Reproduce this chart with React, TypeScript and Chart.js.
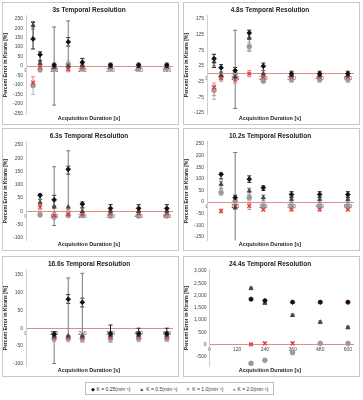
import React, { useEffect, useRef } from "react";
import { Chart, registerables } from "chart.js";
Chart.register(...registerables);

// ---------- data ----------
const durations = [30, 60, 120, 180, 240, 360, 480, 600];
const xTickValues = [0, 120, 240, 360, 480, 600];
const seriesLabels = ["K = 0.25(min⁻¹)", "K = 0.5(min⁻¹)", "K = 1.0(min⁻¹)", "K = 2.0(min⁻¹)"];
const panelTitles = [
  "3s Temporal Resolution",
  "4.8s Temporal Resolution",
  "6.3s Temporal Resolution",
  "10.2s Temporal Resolution",
  "16.6s Temporal Resolution",
  "24.4s Temporal Resolution",
];
const yAxisTitle = "Percent Error in Ktrans [%]";
const xAxisTitle = "Acquisition Duration [s]";

const yTicks1 = [-250, -200, -150, -100, -50, 0, 50, 100, 150, 200, 250];
const yTicks2 = [-125, -75, -25, 25, 75, 125, 175];
const yTicks3 = [-100, -50, 0, 50, 100, 150, 200, 250];
const yTicks4 = [-150, -100, -50, 0, 50, 100, 150, 200, 250];
const yTicks5 = [-100, -50, 0, 50, 100, 150];
const yTicks6 = [-500, 0, 500, 1000, 1500, 2000, 2500, 3000];

type V = number | null;

const p1Mean: V[][] = [
  [143, 60, 5, 127, 20, 5, 5, 5],
  [214, 15, -5, 0, 5, -3, -3, -3],
  [-87, -5, 0, -16, -5, 0, 0, 0],
  [-103, -20, -15, 10, -15, -12, -12, -12],
];
const p1Low: V[][] = [
  [90, 30, -5, 105, -5, -8, -8, -8],
  [195, 0, -206, -16, -10, -15, -15, -15],
  [-110, -15, -10, -30, -15, -10, -10, -10],
  [-150, -30, -25, -5, -25, -22, -22, -22],
];
const p1High: V[][] = [
  [230, 75, 15, 150, 40, 15, 15, 15],
  [235, 25, 206, 238, 15, 7, 7, 7],
  [-56, 5, 10, 0, 5, 10, 10, 10],
  [-90, -10, -5, 30, -5, -2, -2, -2],
];

const p2Mean: V[][] = [
  [48, 19, 10, 130, 24, 0, 0, 0],
  [38, -5, -10, 115, 0, -5, -5, -5],
  [-43, -14, -19, 0, -10, -10, -10, -10],
  [-53, -10, 0, 87, -24, -19, -19, -19],
];
const p2Low: V[][] = [
  [20, 5, 0, 110, 10, -8, -8, -8],
  [25, -15, -111, 72, -10, -12, -12, -12],
  [-70, -24, -30, -10, -20, -18, -18, -18],
  [-82, -20, -10, 75, -29, -27, -27, -27],
];
const p2High: V[][] = [
  [62, 29, 20, 139, 34, 8, 8, 8],
  [50, 5, 139, 139, 10, 2, 2, 2],
  [-30, -5, -10, 10, 0, -3, -3, -3],
  [-40, 0, 10, 100, -15, -12, -12, -12],
];

const p3Mean: V[][] = [
  [null, 60, 43, 158, 27, 11, 11, 11],
  [null, 33, 16, 16, 0, 0, 0, 0],
  [null, 16, -16, -11, -11, -8, -8, -8],
  [null, -13, -22, -16, -16, -18, -18, -18],
];
const p3Low: V[][] = [
  [null, 45, 20, 140, 15, 0, 0, 0],
  [null, 20, -54, 5, -10, -8, -8, -8],
  [null, 5, -25, -20, -18, -15, -15, -15],
  [null, -22, -30, -22, -22, -24, -24, -24],
];
const p3High: V[][] = [
  [null, 65, 60, 170, 35, 25, 25, 25],
  [null, 45, 168, 228, 10, 8, 8, 8],
  [null, 25, -5, 0, -5, -2, -2, -2],
  [null, -5, -15, -10, -10, -12, -12, -12],
];

const p4Mean: V[][] = [
  [null, 120, 19, 99, 62, 33, 33, 33],
  [null, 77, -25, 48, 19, 12, 12, 12],
  [null, -39, -17, -17, -32, -32, -32, -32],
  [null, 41, 5, 19, -17, -17, -17, -17],
];
const p4Low: V[][] = [
  [null, 100, 5, 85, 50, 20, 20, 20],
  [null, 60, -235, 30, 5, 0, 0, 0],
  [null, -46, -25, -32, -38, -38, -38, -38],
  [null, 30, -5, 5, -25, -25, -25, -25],
];
const p4High: V[][] = [
  [null, 125, 30, 113, 70, 45, 45, 45],
  [null, 90, 214, 60, 30, 25, 25, 25],
  [null, -30, -10, -5, -25, -25, -25, -25],
  [null, 55, 15, 33, -5, -5, -5, -5],
];

const p5Mean: V[][] = [
  [null, null, -17, 82, 73, -15, -15, -15],
  [null, null, -22, -22, -22, -20, -20, -20],
  [null, null, -26, -26, -26, -25, -25, -25],
  [null, null, -30, -30, -30, -30, -30, -30],
];
const p5Low: V[][] = [
  [null, null, -25, 70, 60, -22, -22, -22],
  [null, null, -100, -22, -39, -39, -30, -30],
  [null, null, -32, -32, -32, -30, -30, -30],
  [null, null, -38, -38, -38, -38, -38, -38],
];
const p5High: V[][] = [
  [null, null, -10, 95, 85, 9, 0, 0],
  [null, null, -13, 142, 155, -10, -10, -10],
  [null, null, -20, -20, -20, -18, -18, -18],
  [null, null, -25, -25, -25, -24, -24, -24],
];

const p6Mean: V[][] = [
  [null, null, null, 1850, 1790, 1725, 1725, 1725],
  [null, null, null, 2290, 1690, 1190, 910, 690],
  [null, null, null, 0, 40, 40, 1725, 1725],
  [null, null, null, -775, -650, -340, 40, 40],
];
const p6Low: V[][] = [
  [null, null, null, 1790, 1730, 1670, 1670, 1670],
  [null, null, null, 2240, 1640, 1140, 860, 640],
  [null, null, null, -50, -10, -10, 1680, 1680],
  [null, null, null, -830, -700, -390, -10, -10],
];
const p6High: V[][] = [
  [null, null, null, 1900, 1840, 1780, 1780, 1780],
  [null, null, null, 2340, 1740, 1240, 960, 740],
  [null, null, null, 50, 90, 90, 1770, 1770],
  [null, null, null, -720, -600, -290, 90, 90],
];

const yRanges: [number, number][] = [
  [-255, 265],
  [-130, 185],
  [-110, 262],
  [-165, 260],
  [-108, 165],
  [-900, 3050],
];

// ---------- styles ----------
const FONT = "'Liberation Sans', Arial, sans-serif";
const pointStyles = ["rectRot", "triangle", "crossRot", "circle"];
const pointColors = ["#111111", "#444444", "#e03a3a", "#9a9a9a"];
const errColors = ["#222222", "#777777", "#e88080", "#b5b5b5"];

const panels = [
  { mean: p1Mean, low: p1Low, high: p1High, ticks: yTicks1 },
  { mean: p2Mean, low: p2Low, high: p2High, ticks: yTicks2 },
  { mean: p3Mean, low: p3Low, high: p3High, ticks: yTicks3 },
  { mean: p4Mean, low: p4Low, high: p4High, ticks: yTicks4 },
  { mean: p5Mean, low: p5Low, high: p5High, ticks: yTicks5 },
  { mean: p6Mean, low: p6Low, high: p6High, ticks: yTicks6 },
];

const errorBarPlugin = {
  id: "errBars",
  beforeDatasetsDraw(chart: any) {
    const { ctx, chartArea, scales } = chart;
    const x = scales.x;
    const y = scales.y;
    ctx.save();
    ctx.beginPath();
    ctx.rect(chartArea.left, chartArea.top, chartArea.right - chartArea.left, chartArea.bottom - chartArea.top);
    ctx.clip();
    chart.data.datasets.forEach((ds: any) => {
      ctx.strokeStyle = ds.errColor;
      ctx.lineWidth = 1;
      ds.data.forEach((p: any) => {
        const px = x.getPixelForValue(p.x);
        const y1 = y.getPixelForValue(p.lo);
        const y2 = y.getPixelForValue(p.hi);
        ctx.beginPath();
        ctx.moveTo(px, y1);
        ctx.lineTo(px, y2);
        ctx.moveTo(px - 2, y1);
        ctx.lineTo(px + 2, y1);
        ctx.moveTo(px - 2, y2);
        ctx.lineTo(px + 2, y2);
        ctx.stroke();
      });
    });
    ctx.restore();
  },
};

function Panel({ idx, w, h }: { idx: number; w: number; h: number }) {
  const ref = useRef<HTMLCanvasElement | null>(null);
  useEffect(() => {
    if (!ref.current) return;
    const pd = panels[idx];
    const datasets = pd.mean.map((series, s) => ({
      label: seriesLabels[s],
      data: durations
        .map((d, k) =>
          series[k] === null ? null : { x: d, y: series[k], lo: pd.low[s][k], hi: pd.high[s][k] }
        )
        .filter((p) => p !== null),
      pointStyle: pointStyles[s],
      pointRadius: s === 2 ? 2.6 : 2.4,
      borderWidth: s === 2 ? 1.3 : 0.8,
      borderColor: pointColors[s],
      backgroundColor: pointColors[s],
      errColor: errColors[s],
      showLine: false,
    }));
    const chart = new Chart(ref.current, {
      type: "scatter",
      data: { datasets } as any,
      plugins: [errorBarPlugin],
      options: {
        animation: false,
        responsive: false,
        devicePixelRatio: 1,
        events: [],
        layout: { padding: { top: 1, right: 3, bottom: 1, left: 0 } },
        plugins: {
          legend: { display: false },
          tooltip: { enabled: false },
          title: {
            display: true,
            text: panelTitles[idx],
            color: "#222",
            font: { size: 6.5, weight: "bold", family: FONT },
            padding: { top: 2, bottom: 2 },
          },
          subtitle: {
            display: true,
            position: "bottom",
            text: xAxisTitle,
            color: "#222",
            font: { size: 5.5, weight: "bold", family: FONT },
            padding: { top: 1, bottom: 1 },
          },
        },
        scales: {
          x: {
            type: "linear",
            min: 0,
            max: 625,
            position: { y: 0 },
            afterBuildTicks: (s: any) => {
              s.ticks = xTickValues.map((v) => ({ value: v }));
            },
            ticks: { font: { size: 5, family: FONT }, color: "#444", padding: 2, maxRotation: 0, autoSkip: false },
            grid: { display: false, drawTicks: false },
            border: { display: true, color: "#e58a8a", dash: [3, 2], width: 1 },
          },
          y: {
            type: "linear",
            min: yRanges[idx][0],
            max: yRanges[idx][1],
            afterBuildTicks: (s: any) => {
              s.ticks = pd.ticks.map((v) => ({ value: v }));
            },
            ticks: { font: { size: 5, family: FONT }, color: "#444", padding: 3 },
            grid: { display: false, drawTicks: false },
            border: { display: true, color: "#d0d0d0", width: 1 },
            title: {
              display: true,
              text: yAxisTitle,
              color: "#222",
              font: { size: 5, weight: "bold", family: FONT },
              padding: { top: 0, bottom: 1 },
            },
          },
        },
      } as any,
    });
    return () => chart.destroy();
  }, [idx]);
  return <canvas ref={ref} width={w} height={h} style={{ width: w, height: h, display: "block" }} />;
}

const legendMarks = ["◆", "▲", "✕", "●"];

export default function App() {
  const lefts = [2, 183];
  const tops = [2, 128, 256];
  const heights = [123, 123, 121];
  const W = 177;
  return (
    <div style={{ position: "absolute", left: 0, top: 0, width: 363, height: 400, background: "#fff", fontFamily: FONT }}>
      {panelTitles.map((_, i) => {
        const r = Math.floor(i / 2);
        const c = i % 2;
        return (
          <div
            key={i}
            style={{
              position: "absolute",
              left: lefts[c],
              top: tops[r],
              width: W,
              height: heights[r],
              border: "1px solid #c8c8c8",
              boxSizing: "border-box",
            }}
          >
            <Panel idx={i} w={W - 2} h={heights[r] - 2} />
          </div>
        );
      })}
      <div
        style={{
          position: "absolute",
          left: 85,
          top: 382,
          width: 189,
          height: 13,
          border: "1px solid #bdbdbd",
          boxSizing: "border-box",
          display: "flex",
          alignItems: "center",
          justifyContent: "space-around",
          fontSize: 5,
          color: "#333",
          whiteSpace: "nowrap",
        }}
      >
        {seriesLabels.map((l, i) => (
          <span key={i}>
            <span style={{ color: pointColors[i], marginRight: 2 }}>{legendMarks[i]}</span>
            {l}
          </span>
        ))}
      </div>
    </div>
  );
}
